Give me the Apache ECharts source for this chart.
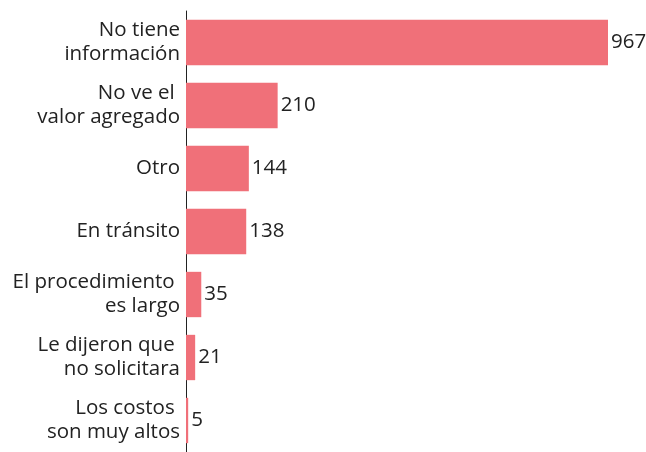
<!DOCTYPE html>
<html>
<head>
<meta charset="utf-8">
<script src="https://cdn.jsdelivr.net/npm/echarts@6/dist/echarts.min.js"></script>
<style>
  html, body { margin: 0; padding: 0; background: #fff; }
  #main { width: 646px; height: 452px; }
</style>
</head>
<body>
<div id="main"></div>
<script>
// categories from top to bottom
const categories = [
  'No tiene\ninformación',
  'No ve el \nvalor agregado',
  'Otro',
  'En tránsito',
  'El procedimiento \nes largo',
  'Le dijeron que \nno solicitara',
  'Los costos \nson muy altos'
]
const values = [967, 210, 144, 138, 35, 21, 5]

const chart = echarts.init(document.getElementById('main'))
chart.setOption({
  animation: false,
  grid: {
    left: 186,
    right: 38,
    top: 11,
    height: 446.6
  },
  xAxis: {
    type: 'value',
    min: 0,
    max: 967,
    show: false
  },
  yAxis: {
    type: 'category',
    inverse: true,
    data: categories,
    axisLine: { show: true, lineStyle: { color: '#222', width: 1 } },
    axisTick: { show: false },
    axisLabel: {
      margin: 6,
      fontFamily: 'Open Sans',
      fontSize: 20.5,
      lineHeight: 24,
      color: '#222',
      align: 'right'
    }
  },
  series: [
    {
      type: 'bar',
      data: values,
      barCategoryGap: '28%',
      itemStyle: { color: '#f07079' },
      label: {
        show: true,
        position: 'right',
        distance: 3,
        fontFamily: 'Open Sans',
        fontSize: 20.5,
        color: '#222'
      }
    }
  ]
})
</script>
</body>
</html>
